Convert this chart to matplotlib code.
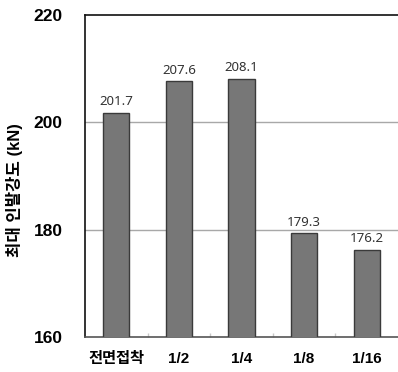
import numpy as np
import matplotlib.pyplot as plt
from matplotlib.ticker import FixedLocator

# 접합 비율별 최대 인발강도
cases = ['전면접착', '1/2', '1/4', '1/8', '1/16']
strength = [201.7, 207.6, 208.1, 179.3, 176.2]
yticks = [160, 180, 200, 220]

kfont = ['Liberation Sans', 'Noto Sans CJK KR']

fig = plt.figure(figsize=(3.98, 3.72), dpi=100)
ax = fig.add_axes([0.2136, 0.094, 0.7864, 0.866])

x = np.arange(len(cases))
ax.bar(x, strength, width=0.42, color='#777777', edgecolor='#3a3a3a',
       linewidth=1.0, zorder=3)

for xi, v in zip(x, strength):
    ax.annotate(f'{v:.1f}', (xi, v), xytext=(0, 3.5), textcoords='offset points',
                ha='center', va='bottom', fontsize=9.5, color='#333333',
                family='Noto Sans')

ax.set_xlim(-0.5, len(cases) - 0.5)
ax.set_ylim(160, 220)
ax.set_yticks(yticks)
ax.set_yticklabels([str(t) for t in yticks], fontsize=12.5, fontweight='bold',
                   family=kfont)
ax.set_xticks(x)
ax.set_xticklabels(cases, fontsize=11, fontweight='bold', family=kfont)
ax.xaxis.set_minor_locator(FixedLocator(x[:-1] + 0.5))
ax.tick_params(axis='x', which='major', length=0, pad=11)
ax.tick_params(axis='x', which='minor', direction='in', length=3,
               color='#c8c8c8', width=1)
ax.tick_params(axis='y', length=0, pad=16)

ax.set_ylabel('최대 인발강도 (kN)', fontsize=12, fontweight='bold',
              family=kfont)
ax.yaxis.set_label_coords(-0.198, 0.455)

for t in [180, 200]:
    ax.axhline(t, color='#a8a8a8', linewidth=1.0, zorder=1)

ax.spines['right'].set_visible(False)
ax.spines['left'].set_color('#111111')
ax.spines['top'].set_color('#111111')
ax.spines['bottom'].set_color('#555555')
for s in ['left', 'top', 'bottom']:
    ax.spines[s].set_linewidth(1.2)

fig.savefig('out.png', dpi=100)
